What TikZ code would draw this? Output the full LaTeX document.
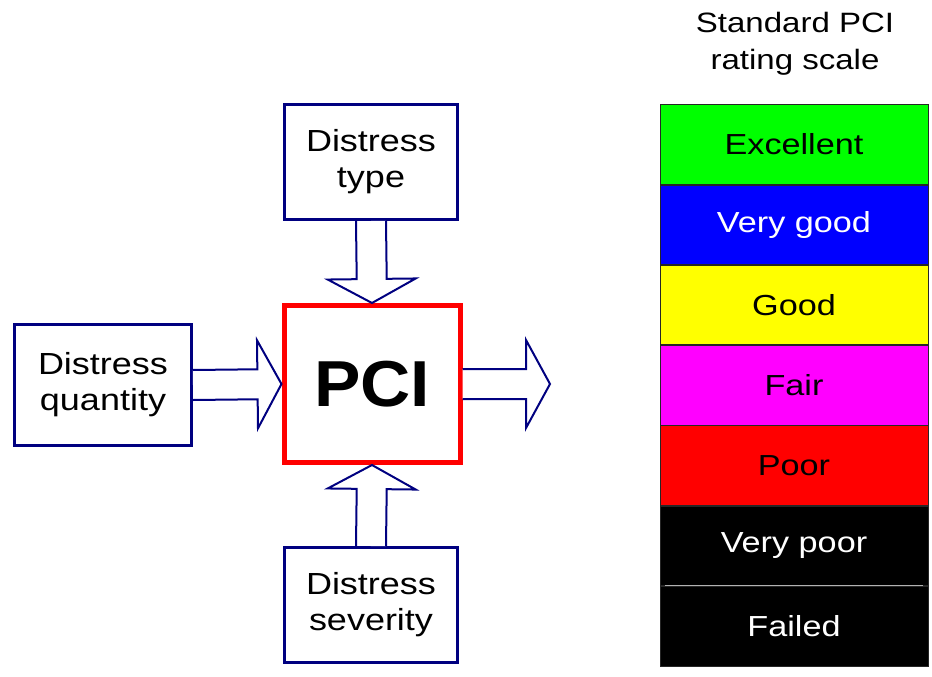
\documentclass[tikz,border=0pt]{standalone}
\usepackage{fontspec}
\setmainfont[FakeStretch=1.18]{Liberation Sans}
\newfontfamily\pcifont[FakeStretch=1.07]{Liberation Sans}
\usetikzlibrary{calc,matrix}

\definecolor{navy}{RGB}{0,0,128}
\definecolor{bandgreen}{RGB}{0,255,0}
\definecolor{bandblue}{RGB}{0,0,255}
\definecolor{bandyellow}{RGB}{255,255,0}
\definecolor{bandmagenta}{RGB}{255,0,255}
\definecolor{bandred}{RGB}{255,0,0}

\tikzset{
  box/.style={draw=navy, line width=3pt, fill=white, inner sep=0pt,
    minimum width=173pt, minimum height=115pt, align=center,
    font=\fontsize{30.5}{36}\selectfont},
  pcibox/.style={draw=bandred, line width=5pt, fill=white, inner sep=0pt,
    minimum width=176pt, minimum height=157pt,
    font=\pcifont\fontsize{65}{65}\selectfont\bfseries},
  fatarrow/.style={draw=navy, line width=2pt, fill=white, line join=miter},
  band/.style={draw=black!85, line width=0.8pt, inner sep=0pt, outer sep=0pt,
    minimum width=268pt, minimum height=79.5pt,
    font=\fontsize{29}{34}\selectfont}
}

% hollow block arrow from #1 to #2
\newcommand{\blockarrow}[2]{%
  \draw[fatarrow] let \p1=(#1), \p2=(#2),
      \n1={atan2(\y2-\y1,\x2-\x1)}, \n2={veclen(\x2-\x1,\y2-\y1)} in
    [shift={(\p1)}, rotate=\n1]
    (0pt,-15pt) -- ({\n2*1pt-24pt},-15pt) -- ({\n2*1pt-24pt},-44pt)
    -- ({\n2*1pt},0pt) -- ({\n2*1pt-24pt},44pt) -- ({\n2*1pt-24pt},15pt)
    -- (0pt,15pt);}

\begin{document}
\begin{tikzpicture}[x=1pt,y=-1pt]
  \useasboundingbox (0,0) rectangle (932,677);

  \node[box] (type) at (371,162) {Distress\\type};
  \node[box, minimum width=177pt, minimum height=121pt] (quantity) at (103,385) {Distress\\quantity};
  \node[pcibox] (pci) at (372,384) {PCI};
  \node[box] (severity) at (371,605) {Distress\\severity};
  \coordinate (out) at (550,384);

  \blockarrow{type.south}{pci.north}
  \blockarrow{quantity.east}{pci.west}
  \blockarrow{severity.north}{pci.south}
  \blockarrow{pci.east}{out}

  \node (title) [align=center, font=\fontsize{28}{37}\selectfont] at (795,44) {Standard PCI\\rating scale};

  \matrix (scale) [matrix of nodes, row sep=0pt, inner sep=0pt, nodes={band}, anchor=north] at (794,104)
  {
    |[fill=bandgreen]| Excellent \\
    |[fill=bandblue, text=white]| Very good \\
    |[fill=bandyellow]| Good \\
    |[fill=bandmagenta]| Fair \\
    |[fill=bandred]| Poor \\
    |[fill=black, text=white]| Very poor \\
    |[fill=black, text=white]| Failed \\
  };
  \draw[black!30, line width=1.5pt] ([xshift=5pt]scale-6-1.south west) -- ([xshift=-5pt]scale-6-1.south east);
\end{tikzpicture}
\end{document}
